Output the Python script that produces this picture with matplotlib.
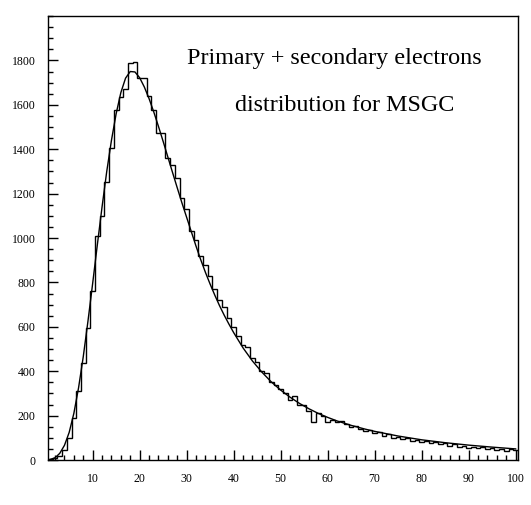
import numpy as np
import matplotlib
matplotlib.use("Agg")
import matplotlib.pyplot as plt
from matplotlib.ticker import MultipleLocator

plt.rcParams['font.family'] = ['Liberation Serif', 'DejaVu Serif']

# histogram contents, one entry per unit bin (bins centred on 1..100)
bin_centres = list(range(1, 101))
counts = [5, 10, 20, 45, 99, 189, 310, 439, 594, 760,
          1010, 1097, 1253, 1407, 1577, 1634, 1670, 1790, 1795, 1720,
          1720, 1640, 1577, 1475, 1475, 1360, 1330, 1270, 1180, 1130,
          1030, 990, 920, 880, 830, 770, 720, 690, 640, 600,
          560, 520, 510, 460, 440, 400, 390, 350, 340, 320,
          300, 270, 290, 250, 250, 220, 170, 210, 200, 170,
          180, 170, 175, 160, 150, 155, 140, 130, 135, 120,
          125, 110, 115, 100, 105, 95, 100, 85, 90, 80,
          85, 75, 80, 70, 75, 65, 70, 60, 65, 55,
          60, 55, 60, 50, 55, 45, 50, 40, 50, 45]

# fitted curve, read at selected abscissae
fit_x = [1, 2, 3, 4, 5, 6, 7, 8, 9, 10, 11, 12, 13, 14, 15, 16, 17, 18, 19, 20,
         21, 22, 23, 24, 25, 26, 27, 28, 29, 30, 31, 32, 33, 34, 35, 36, 37, 38, 39, 40,
         42, 44, 46, 48, 50, 52, 54, 56, 58, 60, 62, 65, 68, 70, 75, 80, 85, 90, 95, 100]
fit_y = [3, 10, 30, 66, 124, 210, 325, 465, 625, 795, 970, 1140, 1300, 1440, 1560,
         1655, 1720, 1750, 1748, 1722, 1680, 1628, 1568, 1503, 1435, 1365, 1295, 1226,
         1158, 1093, 1028, 963, 902, 845, 792, 742, 695, 652, 612, 574,
         505, 446, 396, 352, 315, 283, 255, 231, 210, 192, 176, 156, 139, 129,
         108, 91, 78, 67, 58, 50]

title_lines = ["Primary + secondary electrons", "distribution for MSGC"]

fig = plt.figure(figsize=(5.31, 5.05), dpi=100)
ax = fig.add_axes([0.0904, 0.0891, 0.8851, 0.8792])

ax.hist(bin_centres, bins=np.arange(0.5, 101.5, 1.0), weights=counts,
        histtype='step', color='black', linewidth=1.0)
ax.plot(fit_x, fit_y, color='black', linewidth=1.0)

ax.set_xlim(0.5, 100.5)
ax.set_ylim(0, 2000)
ax.xaxis.set_major_locator(MultipleLocator(10))
ax.xaxis.set_minor_locator(MultipleLocator(2))
ax.yaxis.set_major_locator(MultipleLocator(200))
ax.yaxis.set_minor_locator(MultipleLocator(50))
ax.set_xticks([t for t in range(10, 101, 10)])
ax.set_yticks([t for t in range(0, 1801, 200)])
ax.tick_params(which='both', direction='in', top=False, right=False, labelsize=8.5)
ax.tick_params(which='major', length=7, width=1)
ax.tick_params(which='minor', length=3.5, width=1)
ax.tick_params(axis='x', pad=9)
ax.tick_params(axis='y', pad=9)
for s in ax.spines.values():
    s.set_linewidth(1)

ax.text(0.61, 0.893, title_lines[0], transform=ax.transAxes, ha='center',
        va='baseline', fontsize=17.4)
ax.text(0.632, 0.786, title_lines[1], transform=ax.transAxes, ha='center',
        va='baseline', fontsize=17.4)

fig.savefig("out.png", dpi=100)
